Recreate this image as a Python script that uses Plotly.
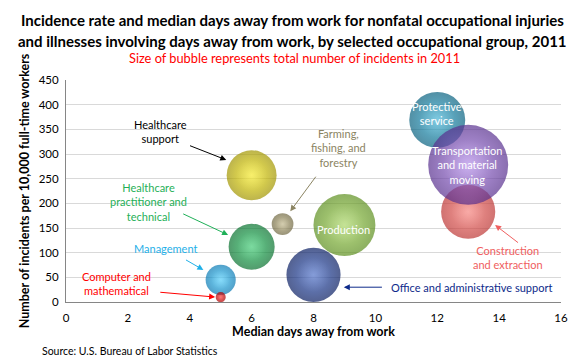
import plotly.graph_objects as go

groups = ["Healthcare support", "Healthcare practitioner and technical", "Farming, fishing, and forestry",
          "Production", "Office and administrative support", "Management", "Computer and mathematical",
          "Construction and extraction", "Protective service", "Transportation and material moving"]
median_days = [6, 6, 7, 9, 8, 5, 5, 13, 12, 13]
incidence_rate = [257, 112, 158, 156, 55, 45, 10, 183, 369, 278]
cases_thousands = [74, 63, 14, 114, 87, 27, 3, 87, 93, 190]

edge_colors = ["#A09400", "#08702E", "#6E6640", "#5C8E1E", "#0A1E62", "#0878B2", "#A80000",
               "#BC3634", "#08607E", "#58308E"]
center_colors = ["#F2E400", "#1CC05A", "#B4A874", "#9ACE4A", "#2C54BC", "#30C2F8", "#FF1414",
                 "#F46C66", "#22A4CC", "#A476E2"]

max_diam = 80
sizeref = 2 * max(cases_thousands) / max_diam ** 2
highlight_frac = 0.4  # area fraction of glossy highlight

fig = go.Figure()
for g, x, y, s, ec, cc in zip(groups, median_days, incidence_rate, cases_thousands, edge_colors, center_colors):
    fig.add_trace(go.Scatter(
        x=[x], y=[y], mode="markers", name=g, showlegend=False,
        marker=dict(size=[s], sizemode="area", sizeref=sizeref, color=ec,
                    gradient=dict(type="radial", color=cc), line=dict(width=0)),
        hoverinfo="text", text=[g]))
    fig.add_trace(go.Scatter(
        x=[x], y=[y], mode="markers", showlegend=False, hoverinfo="skip",
        marker=dict(size=[s * highlight_frac], sizemode="area", sizeref=sizeref,
                    color="rgba(255,255,255,0)",
                    gradient=dict(type="radial", color="rgba(255,255,255,0.25)"), line=dict(width=0))))

font = "Lato, Noto Sans, sans-serif"

# outside labels: (text, x, y, color, arrow tail x, tail y, head x, head y)
labels = [
    ("Healthcare<br>support", 3.07, 345, "#000000", 3.96, 318, 5.18, 288),
    ("Farming,<br>fishing, and<br>forestry", 8.82, 312, "#8B8462", 8.11, 257, 7.25, 184),
    ("Healthcare<br>practitioner and<br>technical", 2.68, 203, "#1FB058", 3.74, 180, 5.24, 136),
    ("Management", 3.23, 109, "#1FB0E8", 3.83, 87, 4.44, 65),
    ("Computer and<br>mathematical", 1.63, 38, "#FF0000", 3.0, 20, 4.82, 10),
    ("Office and administrative support", 13.1, 29, "#0E2A8A", 10.26, 30, 8.98, 30),
    ("Construction<br>and extraction", 14.28, 91, "#F06060", 14.66, 118, 13.87, 156),
]
for t, x, y, c, tx, ty, hx, hy in labels:
    fig.add_annotation(x=x, y=y, text=t, showarrow=False, font=dict(family=font, size=11, color=c))
    fig.add_annotation(x=hx, y=hy, ax=tx, ay=ty, axref="x", ayref="y", text="", showarrow=True,
                       arrowhead=2, arrowsize=1.2, arrowwidth=1, arrowcolor=c)

inside = [
    ("Protective<br>service", 12.0, 383),
    ("Transportation<br>and material<br>moving", 12.97, 278),
    ("Production", 8.98, 146),
]
for t, x, y in inside:
    fig.add_annotation(x=x, y=y, text=t, showarrow=False, font=dict(family=font, size=11, color="white"))

# title lines / subtitle / source in paper coords (plot area: 66..567 x 80..302 px)
def px_x(p):
    return (p - 66) / 501

def px_y(p):
    return (302 - p) / 222

fig.add_annotation(x=px_x(295), y=px_y(20), xref="paper", yref="paper", showarrow=False, yanchor="middle",
                   text="<b>Incidence rate and median days away from work for nonfatal occupational injuries</b>",
                   font=dict(family=font, size=15, color="#000000"))
fig.add_annotation(x=px_x(295), y=px_y(41), xref="paper", yref="paper", showarrow=False, yanchor="middle",
                   text="<b>and illnesses involving days away from work, by selected occupational group, 2011</b>",
                   font=dict(family=font, size=15, color="#000000"))
fig.add_annotation(x=px_x(297), y=px_y(58), xref="paper", yref="paper", showarrow=False, yanchor="middle",
                   text="Size of bubble represents total number of incidents in 2011",
                   font=dict(family=font, size=12.8, color="#FF0000"))
fig.add_annotation(x=px_x(40), y=px_y(351), xref="paper", yref="paper", showarrow=False,
                   xanchor="left", yanchor="middle", text="Source: U.S. Bureau of Labor Statistics",
                   font=dict(family=font, size=10.5, color="#000000"))

fig.update_layout(
    width=580, height=360, margin=dict(l=66, r=13, t=80, b=58),
    paper_bgcolor="white", plot_bgcolor="white",
    font=dict(family=font, size=11, color="#000000"),
    xaxis=dict(range=[0, 16], dtick=2, showgrid=False, zeroline=False, showline=True, linecolor="#868686",
               ticks="", tickfont=dict(size=11.5), ticklabelstandoff=5,
               title=dict(text="<b>Median days away from work</b>", font=dict(size=12.5), standoff=0)),
    yaxis=dict(range=[0, 450], dtick=50, showgrid=True, gridcolor="#D9D9D9", zeroline=False, showline=True,
               linecolor="#868686", ticks="", tickfont=dict(size=11.5), ticklabelstandoff=4,
               title=dict(text="<b>Number of incidents per 10,000 full-time workers</b>", font=dict(size=12.5), standoff=6)),
)
fig.write_html("out.html", config={"displayModeBar": False}, post_script="document.body.style.margin='0';")
